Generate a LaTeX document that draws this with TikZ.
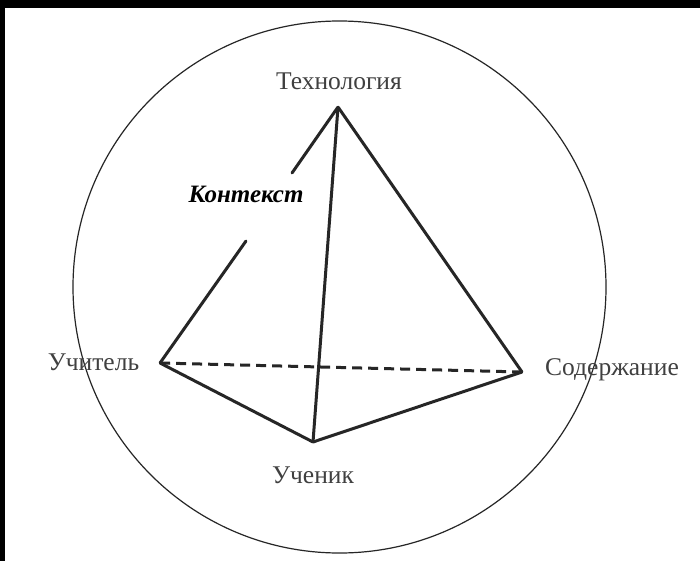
\documentclass[tikz,border=0pt]{standalone}
\usepackage{fontspec}
\setmainfont{Liberation Serif}
\begin{document}
\begin{tikzpicture}[x=1pt,y=-1pt,
  lbl/.style={inner sep=0pt,font=\fontsize{25.5}{28}\selectfont,text=black!75},
  edge/.style={line width=3pt,black!85,line cap=round},
  pt/.style={inner sep=0pt,minimum size=0pt}]
\useasboundingbox (0,0) rectangle (700,561);
\fill[black] (0,0) rectangle (700,561);
\fill[white] (5,8) rectangle (700,561);
\draw[line width=1.2pt,black!85] (339.5,287) ellipse [x radius=266.5,y radius=266];
\node[pt] (T) at (338,107) {};
\node[pt] (U) at (160,363) {};
\node[pt] (S) at (522,372) {};
\node[pt] (P) at (313,442) {};
\coordinate (a2) at (292,173);
\coordinate (b) at (246,241);
\draw[edge] (T) -- (a2);
\draw[edge] (b) -- (U);
\draw[edge] (T) -- (P);
\draw[edge] (T) -- (S);
\draw[edge] (U) -- (P);
\draw[edge] (P) -- (S);
\draw[edge,line cap=butt,dash pattern=on 10pt off 6pt] (U) -- (S);
\node[lbl] (lt) at (339,81) {Технология};
\node[lbl] (lu) at (93.5,362) {Учитель};
\node[lbl] (ls) at (612,370) {Содержание};
\node[lbl] (lp) at (313,475) {Ученик};
\node[lbl,font=\fontsize{25}{28}\selectfont\bfseries\itshape,text=black] (lk) at (246,194) {Контекст};
\end{tikzpicture}
\end{document}
